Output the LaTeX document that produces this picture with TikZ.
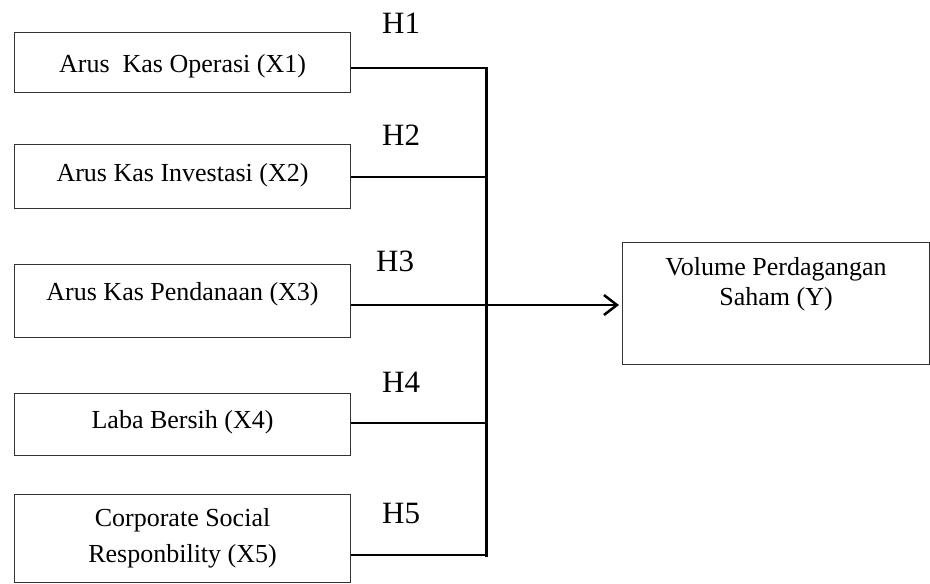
\documentclass[tikz,border=0pt]{standalone}
\usepackage{fontspec}
\setmainfont{Liberation Serif}
\usetikzlibrary{arrows.meta}

\begin{document}
\begin{tikzpicture}[x=1pt, y=-1pt,
        varbox/.style={draw=black!80, line width=1.1pt, minimum width=336, inner xsep=0, inner ysep=0, anchor=north west, font=\fontsize{26}{30}\selectfont},
        hlabel/.style={anchor=base west, inner sep=0, font=\fontsize{31}{36}\selectfont},
        link/.style={line width=2.5pt},
        bus/.style={line width=3pt, line cap=rect}]
                \useasboundingbox (0,0) rectangle (930,584);

                \node[varbox, text height=40, text depth=20](X1) at (14,32) {Arus\ \ Kas Operasi (X1)};
                \node[varbox, text height=37, text depth=27](X2) at (14,144) {Arus Kas Investasi (X2)};
                \node[varbox, text height=36, text depth=37](X3) at (14,264) {Arus Kas Pendanaan (X3)};
                \node[varbox, text height=35, text depth=27](X4) at (14,393) {Laba Bersih (X4)};
                \node[varbox, minimum height=88, align=center, font=\fontsize{26}{36}\selectfont](X5) at (14,494) {Corporate Social\\Responbility (X5)};
                \node[varbox, minimum width=307, minimum height=122, label={[name=Ytext, anchor=north, inner sep=0, yshift=-15, align=center, font=\fontsize{26}{30}\selectfont]north:{Volume Perdagangan\\Saham (Y)}}](Y) at (622,242) {};

                \node[hlabel](h1) at (382,33) {H1};
                \node[hlabel](h2) at (382,145) {H2};
                \node[hlabel](h3) at (376,271) {H3};
                \node[hlabel](h4) at (382,392) {H4};
                \node[hlabel](h5) at (382,523) {H5};

                \coordinate (b1) at (486,68);
                \coordinate (b2) at (486,177);
                \coordinate (b3) at (486,305);
                \coordinate (b4) at (486,423);
                \coordinate (b5) at (486,555);

                                \draw[link] (X1.east |- b1) -- (b1);
                                \draw[link] (X2.east |- b2) -- (b2);
                                \draw[link] (X4.east |- b4) -- (b4);
                                \draw[link] (X5.east |- b5) -- (b5);
                                \draw[bus] (b1) -- (b5);
                                \draw[link, -{Straight Barb[length=13pt, width=20pt]}, shorten >=3pt] (X3.east |- b3) -- (Y.west |- b3);

\end{tikzpicture}
\end{document}
